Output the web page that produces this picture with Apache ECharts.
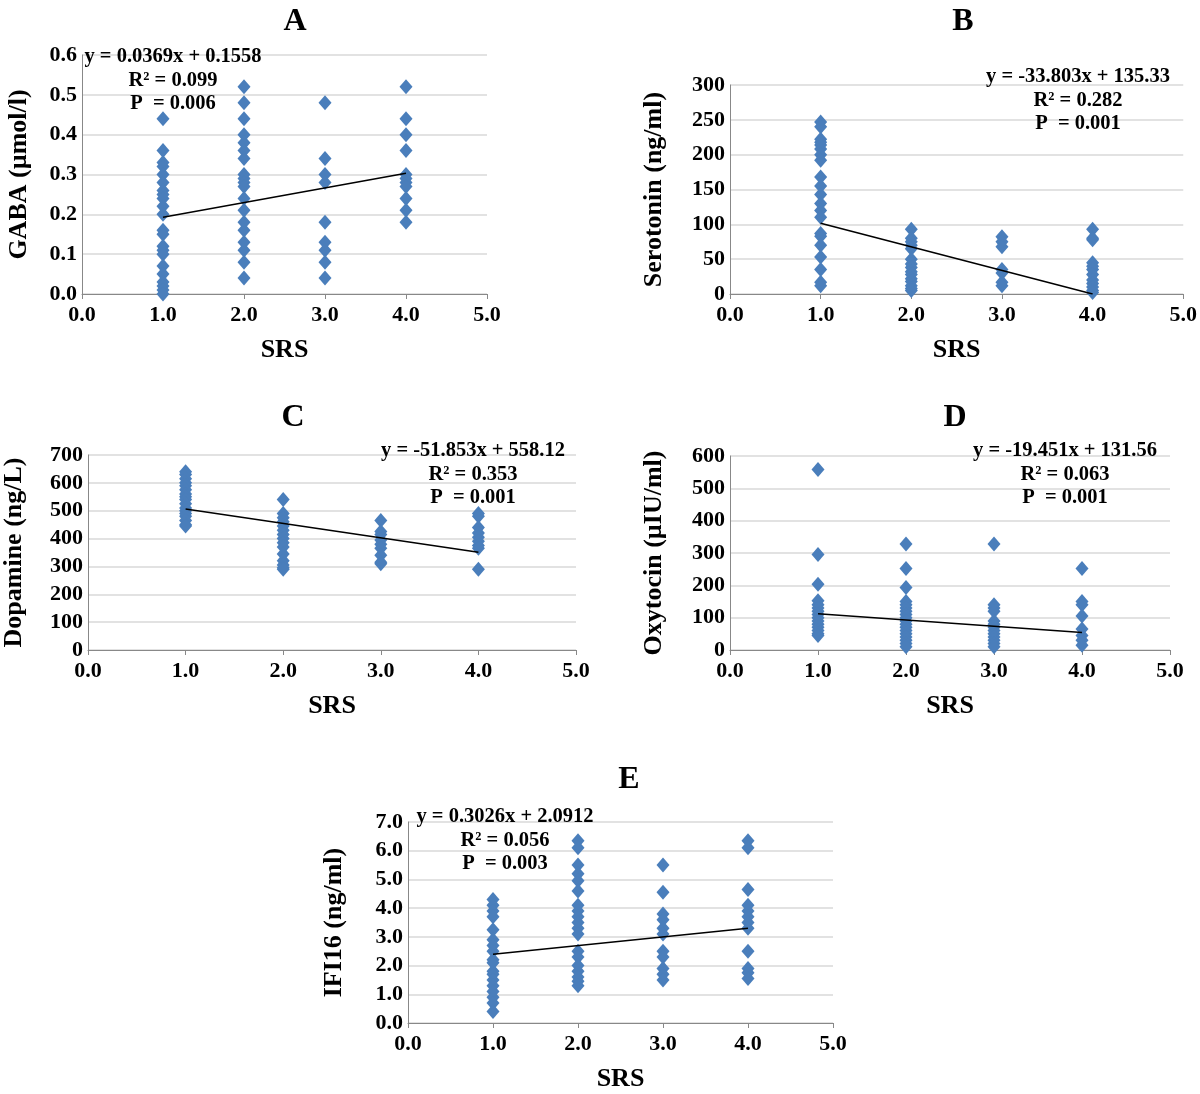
<!DOCTYPE html>
<html><head><meta charset="utf-8">
<script src="https://cdn.jsdelivr.net/npm/echarts@6/dist/echarts.min.js"></script>
<style>html,body{margin:0;padding:0;background:#fff}#c{width:1200px;height:1094px}</style>
</head><body><div id="c"></div>
<script>
// ---- data ----
const srsA1 = [0.44,0.36,0.33,0.32,0.30,0.28,0.26,0.25,0.24,0.22,0.20,0.16,0.15,0.12,0.11,0.10,0.07,0.05,0.03,0.02,0.01,0.0];
const srsA2 = [0.52,0.48,0.44,0.40,0.38,0.36,0.34,0.30,0.29,0.28,0.27,0.24,0.21,0.18,0.16,0.13,0.11,0.08,0.04];
const srsA3 = [0.48,0.34,0.30,0.28,0.18,0.13,0.11,0.08,0.04];
const srsA4 = [0.52,0.44,0.40,0.36,0.30,0.29,0.28,0.27,0.24,0.21,0.18];

const srsB1 = [247,240,222,218,214,208,200,192,168,155,143,130,120,110,87,83,70,53,35,17,12];
const srsB2 = [93,80,75,70,65,50,43,38,32,28,22,18,12,8,5];
const srsB3 = [82,75,68,35,30,17,12];
const srsB4 = [93,80,78,45,40,35,28,20,15,10,5,2];

const srsC1 = [640,630,615,600,590,575,560,550,540,525,510,500,490,480,465,450,445];
const srsC2 = [540,490,475,460,445,430,415,400,385,370,345,320,305,295,290];
const srsC3 = [465,425,415,395,380,365,340,315,310];
const srsC4 = [490,480,440,420,405,390,375,365,290];

const srsD1 = [558,295,203,152,140,130,120,110,100,90,80,70,60,50,45];
const srsD2 = [328,252,193,150,140,130,120,110,100,90,80,70,60,50,40,30,20,10];
const srsD3 = [328,140,130,120,90,80,70,60,50,40,30,20,10];
const srsD4 = [252,150,140,105,65,45,30,15];

const srsE1 = [4.3,4.1,3.9,3.7,3.25,2.9,2.7,2.5,2.2,2.1,1.8,1.7,1.5,1.3,1.1,0.9,0.7,0.4];
const srsE2 = [6.35,6.1,5.5,5.2,4.95,4.6,4.1,3.9,3.7,3.5,3.3,3.1,2.5,2.3,2.0,1.8,1.6,1.45,1.3];
const srsE3 = [5.5,4.55,3.8,3.6,3.3,3.1,2.5,2.3,1.9,1.7,1.5];
const srsE4 = [6.35,6.1,4.65,4.1,3.9,3.7,3.5,3.3,2.5,1.9,1.75,1.55];

const panelLetters = ['A','B','C','D','E'];
const yAxisNames = ['GABA (µmol/l)','Serotonin (ng/ml)','Dopamine (ng/L)','Oxytocin (µIU/ml)','IFI16 (ng/ml)'];
const yMax = [0.6, 300, 700, 600, 7.0];
const yStep = [0.1, 50, 100, 100, 1.0];
const yDecimals = [1, 0, 0, 0, 1];
const slopes = [0.0369, -33.803, -51.853, -19.451, 0.3026];
const intercepts = [0.1558, 135.33, 558.12, 131.56, 2.0912];
const r2Text = ['0.099','0.282','0.353','0.063','0.056'];
const pText = ['0.006','0.001','0.001','0.001','0.003'];
const eqText = ['y = 0.0369x + 0.1558','y = -33.803x + 135.33','y = -51.853x + 558.12','y = -19.451x + 131.56','y = 0.3026x + 2.0912'];
const xTicksMax = 5.0, xStep = 1.0;

const groups = [
  [srsA1,srsA2,srsA3,srsA4],
  [srsB1,srsB2,srsB3,srsB4],
  [srsC1,srsC2,srsC3,srsC4],
  [srsD1,srsD2,srsD3,srsD4],
  [srsE1,srsE2,srsE3,srsE4]
];

// ---- layout ----
const grids = [
  {left:82, top:55, width:405, height:239},
  {left:730, top:85, width:455, height:209},
  {left:88, top:455, width:488, height:195},
  {left:730, top:456, width:440, height:194},
  {left:408, top:822, width:425, height:201}
];
const titlePos = [[290,1],[958,1],[288,397],[950,397],[624,759]];
const annPos = [[173,45],[1078,65],[473,439],[1065,439],[505,805]];
const yNameX = [19, 654, 14, 654, 334];

const FONT = '"Liberation Serif","Times New Roman",serif';
const BLUE = '#4a7ebb';

const option = {
  animation:false,
  backgroundColor:'#fff',
  title:[], grid:[], xAxis:[], yAxis:[], series:[], graphic:[]
};

grids.forEach((g,i)=>{
  option.grid.push(g);
  option.title.push({text:panelLetters[i], left:titlePos[i][0], top:titlePos[i][1], textAlign:'center',
    textStyle:{fontFamily:FONT, fontSize:32, fontWeight:'bold', color:'#000'}});
  option.xAxis.push({gridIndex:i, type:'value', min:0, max:xTicksMax, interval:xStep,
    name:'SRS', nameLocation:'middle', nameGap:43,
    nameTextStyle:{fontFamily:FONT, fontSize:26, fontWeight:'bold', color:'#000'},
    axisLine:{show:true, lineStyle:{color:'#888', width:1}},
    axisTick:{show:true, length:5, lineStyle:{color:'#888'}},
    splitLine:{show:false},
    axisLabel:{fontFamily:FONT, fontSize:22, fontWeight:'bold', color:'#000', margin:10,
      formatter:v=>v.toFixed(1)}});
  option.yAxis.push({gridIndex:i, type:'value', min:0, max:yMax[i], interval:yStep[i],
    axisLine:{show:true, lineStyle:{color:'#888', width:1}},
    axisTick:{show:false},
    splitLine:{show:true, lineStyle:{color:'#d9d9d9', width:1.5}},
    axisLabel:{fontFamily:FONT, fontSize:22, fontWeight:'bold', color:'#000', margin:5,
      formatter:v=>v.toFixed(yDecimals[i])}});
  const pts = [];
  groups[i].forEach((arr,k)=>arr.forEach(v=>pts.push([k+1, v])));
  option.series.push({type:'scatter', xAxisIndex:i, yAxisIndex:i, symbol:'diamond', symbolSize:[13,15],
    itemStyle:{color:BLUE, opacity:1}, data:pts, z:3});
  option.series.push({type:'line', xAxisIndex:i, yAxisIndex:i, symbol:'none', z:4,
    lineStyle:{color:'#000', width:1.5},
    data:[[1, slopes[i]*1+intercepts[i]],[4, slopes[i]*4+intercepts[i]]]});
  const g0 = grids[i];
  option.graphic.push({type:'text', x:yNameX[i], y:g0.top+g0.height/2, rotation:Math.PI/2,
    style:{text:yAxisNames[i], font:'bold 26px '+FONT, fill:'#000', textAlign:'center', textVerticalAlign:'middle'}});
  option.graphic.push({type:'text', x:annPos[i][0], y:annPos[i][1],
    style:{text:eqText[i]+'\nR² = '+r2Text[i]+'\nP  = '+pText[i], font:'bold 20.5px '+FONT, fill:'#000',
      textAlign:'center', lineHeight:23.5}, z:10});
});

const chart = echarts.init(document.getElementById('c'), null, {renderer:'canvas'});
chart.setOption(option);
</script></body></html>
